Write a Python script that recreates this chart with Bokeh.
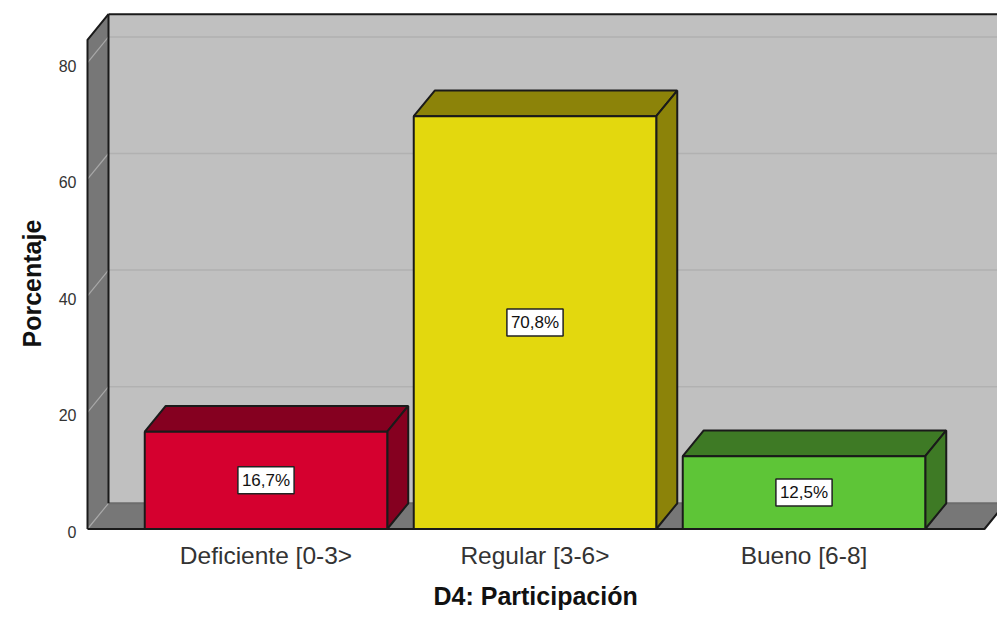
from bokeh.core.properties import value
from bokeh.embed import file_html
from bokeh.models import FixedTicker, LinearAxis, Range1d, Title
from bokeh.plotting import figure
from bokeh.resources import INLINE

categories = ["Deficiente [0-3>", "Regular [3-6>", "Bueno [6-8]"]
percentages = [16.7, 70.8, 12.5]
percent_labels = ["16,7%", "70,8%", "12,5%"]
front_colors = ["#d5002f", "#e3d80e", "#5ec537"]
shade_colors = ["#850020", "#8c8309", "#3e7a25"]
y_ticks = [0, 20, 40, 60, 80]
x_title = "D4: Participación"
y_title = "Porcentaje"

FONT = "Liberation Sans"
W, H = 997, 617
LEFT, TOP, BOTTOM = 85, 8, 85

# Scale of the value axis and category axis, in pixels per data unit
PX_Y = 5.83
PX_X = 269.0
X0_PX = 265.5      # pixel position of the first category
Y0_PX = 528.5      # pixel position of value 0

xmin = 1 + (LEFT - X0_PX) / PX_X
xmax = 1 + (W - X0_PX) / PX_X
ymin = (Y0_PX - (H - BOTTOM)) / PX_Y
ymax = (Y0_PX - TOP) / PX_Y

# Oblique depth of the 3D box, expressed in data units
DX = 21 / PX_X
DY = 25.7 / PX_Y
BAR_W = 242.5 / PX_X

positions = [i + 1 for i in range(len(categories))]
wall_left = 1 + (87 - X0_PX) / PX_X
wall_right = 1 + (984 - X0_PX) / PX_X
wall_top = 83.9

p = figure(
    width=W, height=H, output_backend="svg", toolbar_location=None,
    x_range=Range1d(xmin, xmax), y_range=Range1d(ymin, ymax), y_axis_location=None,
    min_border_left=LEFT, min_border_right=0, min_border_top=TOP, min_border_bottom=BOTTOM,
    outline_line_color=None, background_fill_color="white", border_fill_color="white",
)
p.grid.visible = False

# Back wall, side wall, floor
p.patch([wall_left + DX, wall_right + DX, wall_right + DX, wall_left + DX],
        [DY, DY, wall_top + DY, wall_top + DY], fill_color="#c0c0c0", line_color=None)
p.patch([wall_left, wall_left + DX, wall_left + DX, wall_left],
        [0, DY, wall_top + DY, wall_top], fill_color="#777777", line_color=None)
p.patch([wall_left, wall_right, wall_right + DX, wall_left + DX],
        [0, 0, DY, DY], fill_color="#777777", line_color=None)

# Grid lines run across the back wall and fold down the side wall
p.multi_line([[wall_left + DX, wall_right + DX] for _ in y_ticks[1:]],
             [[t + DY, t + DY] for t in y_ticks[1:]], line_color="#b1b1b1", line_width=1.5)
p.multi_line([[wall_left, wall_left + DX] for _ in y_ticks],
             [[t, t + DY] for t in y_ticks], line_color="#a8a8a8", line_width=1.2)
p.line([wall_left + DX, wall_right + DX], [DY, DY], line_color="#6c6c6c", line_width=2)

# Box edges
edge = dict(line_color="#1a1a1a", line_width=2)
p.line([wall_left + DX, wall_left + DX], [DY, wall_top + DY], **edge)
p.line([wall_left + DX, wall_right + DX], [wall_top + DY, wall_top + DY], **edge)
p.line([wall_left, wall_left, wall_left + DX], [0, wall_top, wall_top + DY], **edge)
p.line([wall_left, wall_right, wall_right + DX], [0, 0, DY], **edge)

# Bars: top face, side face and front face of each category
for x, v, front, shade in zip(positions, percentages, front_colors, shade_colors):
    x1, x2 = x - BAR_W / 2, x + BAR_W / 2
    p.patch([x1, x2, x2 + DX, x1 + DX], [v, v, v + DY, v + DY], fill_color=shade, **edge)
    p.patch([x2, x2 + DX, x2 + DX, x2], [0, DY, v + DY, v], fill_color=shade, **edge)
    p.patch([x1, x2, x2, x1], [0, 0, v, v], fill_color=front, **edge)

# Value boxes in the middle of each bar's front face
p.text(positions, [v / 2 for v in percentages], text=percent_labels,
       text_font=value(FONT), text_font_size="17px", text_color="#111111",
       text_align="center", text_baseline="middle",
       background_fill_color="white", border_line_color="#222222", border_line_width=1.5,
       padding=4)

p.xaxis.ticker = FixedTicker(ticks=positions)
p.xaxis.major_label_overrides = {x: c for x, c in zip(positions, categories)}
p.xaxis.major_label_text_font = FONT
p.xaxis.major_label_text_font_size = "24.5px"
p.xaxis.major_label_text_color = "#333333"
p.xaxis.major_label_standoff = 3

# Value axis on a range shifted slightly, so its labels sit just under the grid level
LABEL_DROP = 2.9 / PX_Y
p.extra_y_ranges = {"tick_labels": Range1d(ymin + LABEL_DROP, ymax + LABEL_DROP)}
y_axis = LinearAxis(y_range_name="tick_labels", ticker=FixedTicker(ticks=y_ticks))
y_axis.major_label_text_font = FONT
y_axis.major_label_text_font_size = "16px"
y_axis.major_label_text_color = "#333333"
y_axis.major_label_standoff = 3
p.add_layout(y_axis, "left")

for ax in (p.xaxis[0], y_axis):
    ax.axis_line_color = None
    ax.major_tick_line_color = None
    ax.minor_tick_line_color = None

# Axis titles, placed along the frame edge from its lower left corner
title_style = dict(text_font=FONT, text_font_style="bold", text_font_size="25px",
                   text_color="#111111", align="left", vertical_align="bottom")
p.add_layout(Title(text=x_title, offset=348, standoff=16, **title_style), "below")
p.add_layout(Title(text=y_title, offset=185, standoff=20, **title_style), "left")

open("out.html", "w").write(file_html(p, INLINE))
